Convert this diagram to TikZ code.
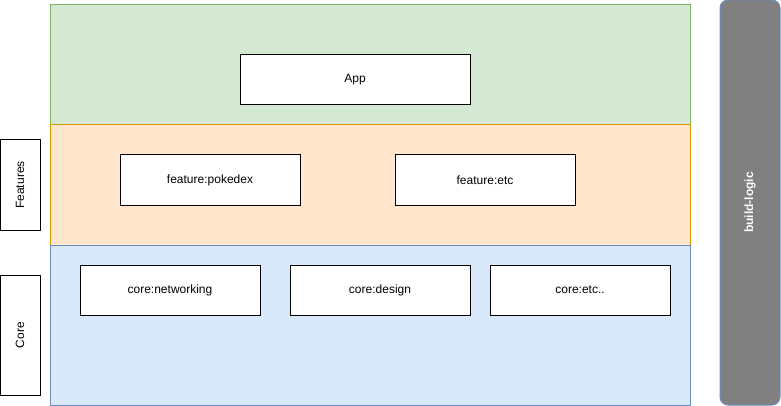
\documentclass[tikz,border=0pt]{standalone}
\usepackage{fontspec}
\setmainfont{Liberation Sans}
\definecolor{greenfill}{HTML}{D5E8D4}
\definecolor{greenline}{HTML}{82B366}
\definecolor{orangefill}{HTML}{FFE6CC}
\definecolor{orangeline}{HTML}{D79B00}
\definecolor{bluefill}{HTML}{DAE8FC}
\definecolor{blueline}{HTML}{6C8EBF}
\definecolor{logicfill}{HTML}{808080}
\tikzset{
  layer/.style={draw, line width=1pt, inner sep=0pt},
  module/.style={draw, fill=white, line width=1pt, minimum width=180pt, minimum height=50pt, inner sep=0pt, font=\fontsize{12}{14}\selectfont},
  tag/.style={draw, fill=white, line width=1pt, minimum width=40pt, inner sep=0pt, font=\fontsize{12}{14}\selectfont}
}
\begin{document}
\begin{tikzpicture}[x=1pt,y=-1pt]
\useasboundingbox (0,0) rectangle (781,406);

% Layers
\node[layer, fill=greenfill, draw=greenline, minimum width=640pt, minimum height=120pt] (applayer) at (370,65) {};
\node[layer, fill=orangefill, draw=orangeline, minimum width=640pt, minimum height=120pt] (featurelayer) at (370,185) {};
\node[layer, fill=bluefill, draw=blueline, minimum width=640pt, minimum height=160pt] (corelayer) at (370,325) {};

% Modules
\node[module, minimum width=230pt] (app) at (355,80) {App};
\node[module] (pokedex) at (210,180) {feature:pokedex};
\node[module] (featetc) at (485,180) {feature:etc};
\node[module] (networking) at (170,290) {core:networking};
\node[module] (design) at (380,290) {core:design};
\node[module] (coreetc) at (580,290) {core:etc..};

% Side tags
\node[tag, minimum height=90pt] (features) at (20,185) {};
\node[rotate=90, font=\fontsize{12}{14}\selectfont] at (features.center) {Features};
\node[tag, minimum height=120pt] (core) at (20,335) {};
\node[rotate=90, font=\fontsize{12}{14}\selectfont] at (core.center) {Core};

% Build logic
\node[draw=blueline, fill=logicfill, line width=1pt, rounded corners=8pt, minimum width=60pt, minimum height=405pt, inner sep=0pt] (buildlogic) at (750,202.5) {};
\node[rotate=90, text=white, font=\fontsize{12}{14}\selectfont\bfseries] at (buildlogic.center) {build-logic};

\end{tikzpicture}
\end{document}
